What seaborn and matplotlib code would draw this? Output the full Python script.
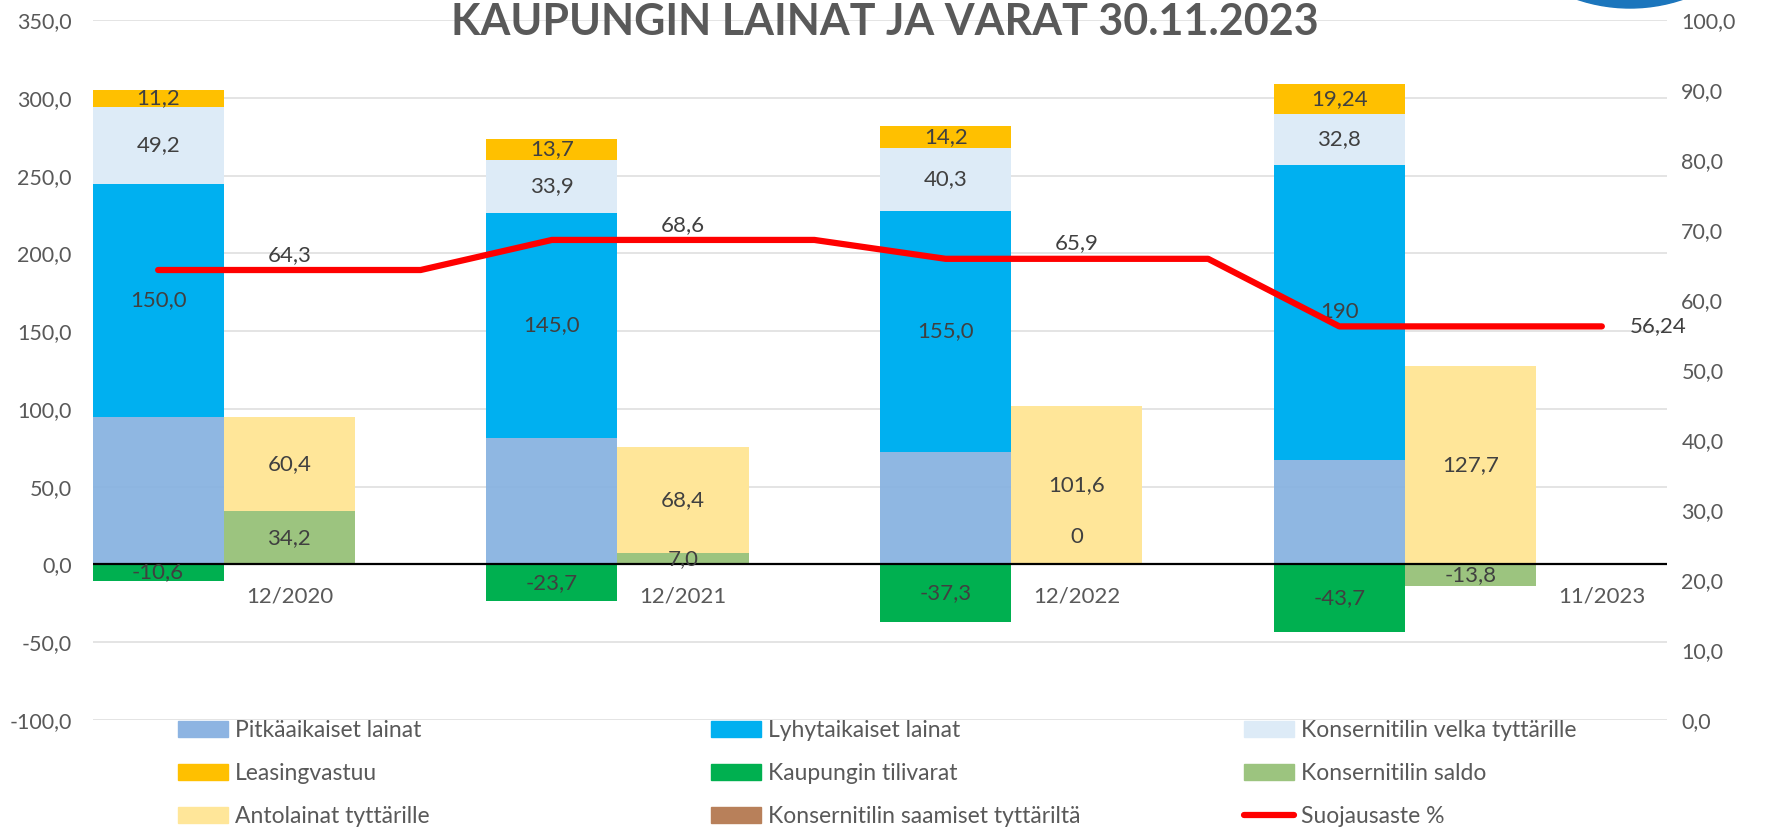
import numpy as np
import matplotlib
matplotlib.use('Agg')
import matplotlib.pyplot as plt
import matplotlib.patches as mpatches
from matplotlib.lines import Line2D
import seaborn as sns

# Data (values in M€, suojausaste in %)
kaudet = ['12/2020', '12/2021', '12/2022', '11/2023']
pitkaaikaiset = [94.9, 81.2, 72.5, 67.2]
lyhytaikaiset = [150.0, 145.0, 155.0, 190.0]
velka_tyttarille = [49.2, 33.9, 40.3, 32.8]
leasingvastuu = [11.2, 13.7, 14.2, 19.24]
tilivarat = [-10.6, -23.7, -37.3, -43.7]
konsernitilin_saldo = [34.2, 7.0, 0.0, -13.8]
antolainat = [60.4, 68.4, 101.6, 127.7]
saamiset_tyttarilta = [0.0, 0.0, 0.0, 0.0]
suojausaste = [64.3, 64.3, 64.3, 68.6, 68.6, 68.6, 65.9, 65.9, 65.9, 56.24, 56.24, 56.24]

# Label texts as shown in the chart
lyhyt_txt = ['150,0', '145,0', '155,0', '190']
velka_txt = ['49,2', '33,9', '40,3', '32,8']
leasing_txt = ['11,2', '13,7', '14,2', '19,24']
tilivarat_txt = ['-10,6', '-23,7', '-37,3', '-43,7']
saldo_txt = ['34,2', '7,0', '0', '-13,8']
antolainat_txt = ['60,4', '68,4', '101,6', '127,7']
suojaus_txt = ['64,3', '68,6', '65,9', '56,24']

# 12 category slots: liabilities, assets, empty per period
velat_x = np.array([0, 3, 6, 9])
varat_x = np.array([1, 4, 7, 10])
kausi_x = [1, 4, 7, 11]
suojaus_lbl_x = [1, 4, 7, 11]

GRAY = '#595959'
LBL = '#404040'
FS = 16

sns.set_style('white')
plt.rcParams['font.family'] = ['Lato', 'DejaVu Sans']

fig = plt.figure(figsize=(17.69, 8.32), dpi=100)
ax = fig.add_axes([0.0523, 0.1349, 0.8903, 0.8407])


def stack(x, series):
    pos = np.zeros(len(x))
    neg = np.zeros(len(x))
    for vals, col, alpha, txt in series:
        vals = np.array(vals, dtype=float)
        bottom = np.where(vals >= 0, pos, neg)
        ax.bar(x, vals, bottom=bottom, width=1.0, color=col, alpha=alpha,
               linewidth=0, zorder=2)
        if txt is not None:
            for xi, b, v, t in zip(x, bottom, vals, txt):
                off = 20 if v == 0 else 0
                ax.annotate(t, (xi, b + v / 2), xytext=(0, off), textcoords='offset points',
                            ha='center', va='center', fontsize=FS, color=LBL, zorder=4)
        pos += np.clip(vals, 0, None)
        neg += np.clip(vals, None, 0)


stack(velat_x, [
    (pitkaaikaiset, '#86B1E0', 0.92, None),
    (lyhytaikaiset, '#00B0F0', 1.0, lyhyt_txt),
    (velka_tyttarille, '#DDEBF7', 1.0, velka_txt),
    (leasingvastuu, '#FFC000', 1.0, leasing_txt),
    (tilivarat, '#00B050', 1.0, tilivarat_txt),
])
stack(varat_x, [
    (konsernitilin_saldo, '#9CC47F', 1.0, saldo_txt),
    (antolainat, '#FFE699', 1.0, antolainat_txt),
    (saamiset_tyttarilta, '#B8805A', 1.0, None),
])

ax.axhline(0, color='black', lw=1.6, zorder=3)
ax.set_xlim(-0.5, 11.5)
ax.set_ylim(-100, 350)
yt = np.arange(-100, 351, 50)
ax.set_yticks(yt)
ax.set_yticklabels([f'{v:.1f}'.replace('.', ',') for v in yt])
ax.set_xticks([])
ax.yaxis.grid(True, color='#E2E2E2', lw=1.3)
ax.set_axisbelow(True)
ax.tick_params(axis='y', length=0, pad=15, labelsize=15.5, labelcolor=GRAY)
for s in ax.spines.values():
    s.set_visible(False)

for xi, t in zip(kausi_x, kaudet):
    ax.annotate(t, (xi, 0), xytext=(0, -23), textcoords='offset points',
                ha='center', va='center', fontsize=FS, color=GRAY)

ax2 = ax.twinx()
sns.lineplot(x=np.arange(12), y=suojausaste, ax=ax2, color='#FF0000', lw=4.5,
             solid_capstyle='round', zorder=5)
ax2.set_ylim(0, 100)
yt2 = np.arange(0, 101, 10)
ax2.set_yticks(yt2)
ax2.set_yticklabels([f'{v:.1f}'.replace('.', ',') for v in yt2])
ax2.tick_params(axis='y', length=0, pad=10, labelsize=15.5, labelcolor=GRAY)
ax2.set_ylabel('')
ax2.grid(False)
for s in ax2.spines.values():
    s.set_visible(False)

for k, (xi, t) in enumerate(zip(suojaus_lbl_x, suojaus_txt)):
    if k == len(suojaus_txt) - 1:
        ax2.annotate(t, (xi, suojausaste[xi]), xytext=(20, 0), textcoords='offset points',
                     ha='left', va='center', fontsize=FS, color=LBL)
    else:
        ax2.annotate(t, (xi, suojausaste[xi]), xytext=(0, 11), textcoords='offset points',
                     ha='center', va='center', fontsize=FS, color=LBL)

fig.text(0.5, 1 - 22 / 832, 'KAUPUNGIN LAINAT JA VARAT 30.11.2023', ha='center', va='center',
         fontsize=31, fontweight='bold', color=GRAY)

# logo edge at top right
fig.patches.append(mpatches.Ellipse((1630 / 1769, 1 + 157 / 832), 2 * 165 / 1769, 2 * 165 / 832,
                                    transform=fig.transFigure, color='#1B75BC', zorder=10))

# legend in three columns
cols = [
    [('Pitkäaikaiset lainat', '#8DB4E2'), ('Leasingvastuu', '#FFC000'),
     ('Antolainat tyttärille', '#FFE699')],
    [('Lyhytaikaiset lainat', '#00B0F0'), ('Kaupungin tilivarat', '#00B050'),
     ('Konsernitilin saamiset tyttäriltä', '#B8805A')],
    [('Konsernitilin velka tyttärille', '#DDEBF7'), ('Konsernitilin saldo', '#9CC47F'),
     ('Suojausaste %', None)],
]
leg_x = [178, 711, 1244]
for cx, entries in zip(leg_x, cols):
    handles = []
    for name, col in entries:
        if col is None:
            handles.append(Line2D([], [], color='#FF0000', lw=4.5, solid_capstyle='round', label=name))
        else:
            handles.append(mpatches.Patch(color=col, label=name))
    leg = fig.legend(handles=handles, loc='upper left', bbox_to_anchor=(cx / 1769, 1 - 720 / 832),
                     frameon=False, fontsize=16.5, handlelength=2.2, handleheight=0.7,
                     handletextpad=0.3, labelspacing=0.95, borderpad=0, borderaxespad=0)
    for t in leg.get_texts():
        t.set_color(GRAY)

fig.savefig('out.png', dpi=100)
